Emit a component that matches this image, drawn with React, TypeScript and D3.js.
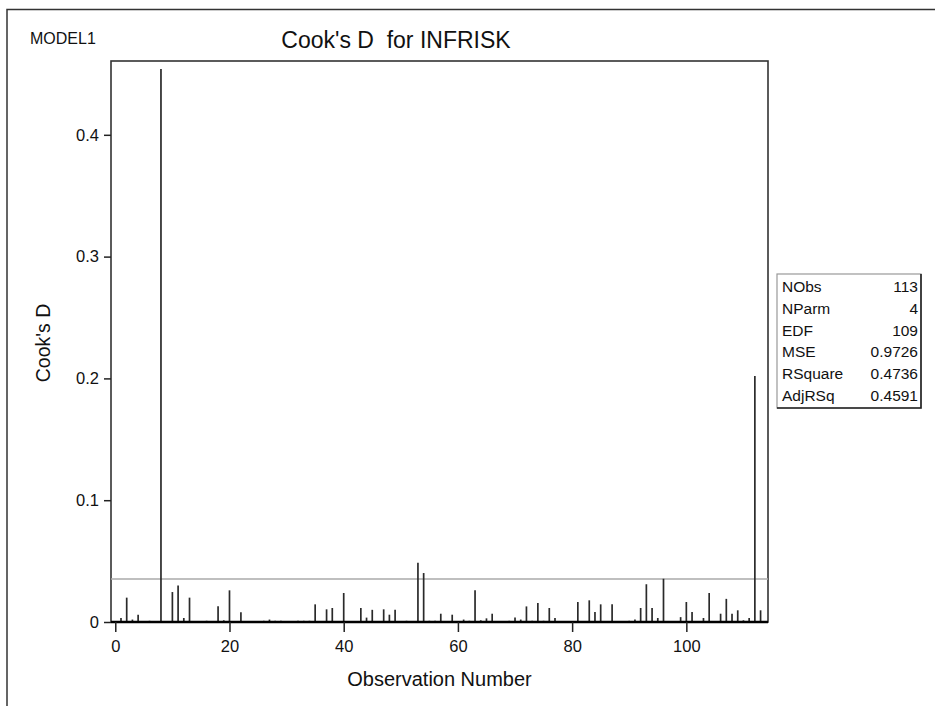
import { useEffect, useRef } from "react";
import * as d3 from "d3";

const cooksD = [
  0.0033, 0.02, 0.002, 0.006, 0.0005, 0.001, 0.0005, 0.454, 0.0005, 0.0246,
  0.03, 0.0033, 0.02, 0.0005, 0.0005, 0.001, 0.0005, 0.013, 0.0014, 0.026,
  0.0005, 0.008, 0.0003, 0.0003, 0.0005, 0.001, 0.002, 0.001, 0.001, 0.0003,
  0.0005, 0.001, 0.001, 0.001, 0.0145, 0.0005, 0.0104, 0.0115, 0.0005, 0.0238,
  0.0005, 0.0003, 0.0115, 0.0036, 0.01, 0.0005, 0.0104, 0.006, 0.01, 0.0003,
  0.001, 0.0003, 0.0487, 0.0402, 0.001, 0.001, 0.0068, 0.0005, 0.006, 0.0005,
  0.002, 0.001, 0.026, 0.0014, 0.003, 0.0068, 0.0003, 0.0003, 0.001, 0.0036,
  0.002, 0.0128, 0.001, 0.0156, 0.001, 0.0115, 0.0033, 0.0003, 0.0003, 0.0005,
  0.0164, 0.0005, 0.0178, 0.0082, 0.0145, 0.0005, 0.0145, 0.0003, 0.0003, 0.001,
  0.002, 0.0115, 0.031, 0.0115, 0.0033, 0.0355, 0.0005, 0.0003, 0.004, 0.0164,
  0.0082, 0.0005, 0.0033, 0.0238, 0.0005, 0.0068, 0.019, 0.0068, 0.0096, 0.0014,
  0.0033, 0.202, 0.0096,
];
const obsNumbers = cooksD.map((_, i) => i + 1);

const cutoff = 4 / 113;

const xTicks = [0, 20, 40, 60, 80, 100];
const yTicks = [0, 0.1, 0.2, 0.3, 0.4];

const statLabels = ["NObs", "NParm", "EDF", "MSE", "RSquare", "AdjRSq"];
const statValues = ["113", "4", "109", "0.9726", "0.4736", "0.4591"];

const FONT = "'Liberation Sans', Arial, Helvetica, sans-serif";

const App = () => {
  const chartRef = useRef(null);

  useEffect(() => {
    if (!chartRef.current) return;
    const svg = d3.select(chartRef.current);
    svg.selectAll("*").remove();

    const width = 935;
    const height = 706;
    const frame = { left: 111, right: 768, top: 61, bottom: 622 };

    svg
      .attr("width", width)
      .attr("height", height)
      .attr("viewBox", [0, 0, width, height] as any)
      .style("font-family", FONT);

    svg.append("rect").attr("width", width).attr("height", height).attr("fill", "#fff");

    // outer page border
    svg
      .append("path")
      .attr("d", `M7,${height}V9.5H${width}`)
      .attr("fill", "none")
      .attr("stroke", "#333")
      .attr("stroke-width", 1.5);

    const x = d3.scaleLinear().domain([-0.75, 114.3]).range([frame.left, frame.right]);
    const y = d3.scaleLinear().domain([0, 0.4606]).range([frame.bottom, frame.top]);

    // plot frame
    svg
      .append("rect")
      .attr("x", frame.left)
      .attr("y", frame.top)
      .attr("width", frame.right - frame.left)
      .attr("height", frame.bottom - frame.top)
      .attr("fill", "none")
      .attr("stroke", "#333")
      .attr("stroke-width", 1.6);

    // cutoff reference line
    svg
      .append("line")
      .attr("x1", frame.left)
      .attr("x2", frame.right)
      .attr("y1", y(cutoff))
      .attr("y2", y(cutoff))
      .attr("stroke", "#aaa")
      .attr("stroke-width", 1.5);

    // needles
    svg
      .append("g")
      .selectAll("line")
      .data(obsNumbers)
      .join("line")
      .attr("x1", (d) => x(d))
      .attr("x2", (d) => x(d))
      .attr("y1", y(0))
      .attr("y2", (d) => y(cooksD[d - 1]))
      .attr("stroke", "#2a2a2a")
      .attr("stroke-width", 1.7);

    // bottom axis line
    svg
      .append("line")
      .attr("x1", frame.left)
      .attr("x2", frame.right)
      .attr("y1", frame.bottom)
      .attr("y2", frame.bottom)
      .attr("stroke", "#000")
      .attr("stroke-width", 2.5);

    const gx = svg
      .append("g")
      .attr("transform", `translate(0,${frame.bottom})`)
      .call(d3.axisBottom(x).tickValues(xTicks).tickSize(10).tickPadding(8).tickSizeOuter(0));
    gx.select(".domain").remove();
    gx.selectAll(".tick line").attr("stroke", "#222").attr("stroke-width", 1.5);
    gx.selectAll(".tick text")
      .attr("font-family", FONT)
      .attr("font-size", 16.5)
      .attr("fill", "#111")
      .attr("dy", "0.75em");

    const gy = svg
      .append("g")
      .attr("transform", `translate(${frame.left},0)`)
      .call(
        d3
          .axisLeft(y)
          .tickValues(yTicks)
          .tickSize(7)
          .tickPadding(5)
          .tickFormat((d: any) => (d === 0 ? "0" : d3.format(".1f")(d)))
      );
    gy.select(".domain").remove();
    gy.selectAll(".tick line").attr("stroke", "#222").attr("stroke-width", 1.5);
    gy.selectAll(".tick text")
      .attr("font-family", FONT)
      .attr("font-size", 16.5)
      .attr("fill", "#111");

    // titles
    svg
      .append("text")
      .attr("x", 30)
      .attr("y", 44)
      .attr("font-size", 16)
      .attr("fill", "#111")
      .text("MODEL1");

    svg
      .append("text")
      .attr("x", 396)
      .attr("y", 48)
      .attr("text-anchor", "middle")
      .attr("font-size", 23)
      .attr("fill", "#111")
      .attr("xml:space", "preserve")
      .style("white-space", "pre")
      .text("Cook's D  for INFRISK");

    svg
      .append("text")
      .attr("x", (frame.left + frame.right) / 2)
      .attr("y", 686)
      .attr("text-anchor", "middle")
      .attr("font-size", 20)
      .attr("fill", "#111")
      .text("Observation Number");

    svg
      .append("text")
      .attr("transform", `translate(50,343) rotate(-90)`)
      .attr("text-anchor", "middle")
      .attr("font-size", 19.5)
      .attr("fill", "#111")
      .text("Cook's D");

    // fit statistics box
    const box = { x: 777, y: 274, w: 144, h: 134 };
    const gb = svg.append("g");
    gb.append("rect")
      .attr("x", box.x)
      .attr("y", box.y)
      .attr("width", box.w)
      .attr("height", box.h)
      .attr("fill", "#fff")
      .attr("stroke", "#999")
      .attr("stroke-width", 1.2);
    gb.append("path")
      .attr("d", `M${box.x + box.w},${box.y}V${box.y + box.h}H${box.x}`)
      .attr("fill", "none")
      .attr("stroke", "#222")
      .attr("stroke-width", 1.6);

    const rowY = d3.scaleBand().domain(statLabels).range([box.y + 2, box.y + box.h - 2]);
    gb.selectAll("text.lab")
      .data(statLabels)
      .join("text")
      .attr("class", "lab")
      .attr("x", box.x + 5)
      .attr("y", (d) => (rowY(d) as number) + rowY.bandwidth() / 2)
      .attr("dy", "0.36em")
      .attr("font-size", 15.5)
      .attr("fill", "#111")
      .text((d) => d);
    gb.selectAll("text.val")
      .data(statLabels)
      .join("text")
      .attr("class", "val")
      .attr("x", box.x + box.w - 3)
      .attr("y", (d) => (rowY(d) as number) + rowY.bandwidth() / 2)
      .attr("dy", "0.36em")
      .attr("text-anchor", "end")
      .attr("font-size", 15.5)
      .attr("fill", "#111")
      .text((_, i) => statValues[i]);
  }, []);

  return (
    <svg
      ref={chartRef}
      style={{ position: "absolute", left: 0, top: 0, display: "block" }}
    ></svg>
  );
};

export default App;
